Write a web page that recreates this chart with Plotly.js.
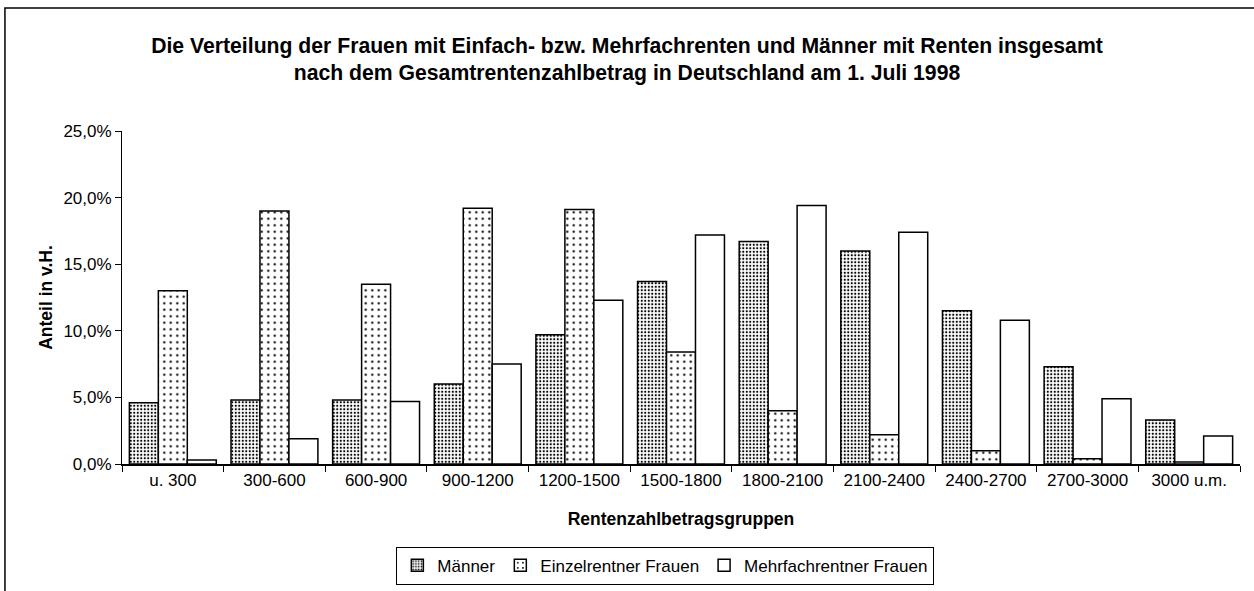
<!DOCTYPE html>
<html><head><meta charset="utf-8">
<script src="https://cdn.plot.ly/plotly-3.0.1.min.js"></script>
<style>body{margin:0;background:#fff}#c{width:1254px;height:591px}</style>
</head><body><div id="c"></div>
<script>
const categories = ["u. 300","300-600","600-900","900-1200","1200-1500","1500-1800","1800-2100","2100-2400","2400-2700","2700-3000","3000 u.m."];
const maenner = [4.6, 4.8, 4.8, 6.0, 9.7, 13.7, 16.7, 16.0, 11.5, 7.3, 3.3];
const einzel = [13.0, 19.0, 13.5, 19.2, 19.1, 8.4, 4.0, 2.2, 1.0, 0.4, 0.15];
const mehrfach = [0.3, 1.9, 4.7, 7.5, 12.3, 17.2, 19.4, 17.4, 10.8, 4.9, 2.1];
const yTicks = [0, 5, 10, 15, 20, 25];
const yTickLabels = ["0,0%","5,0%","10,0%","15,0%","20,0%","25,0%"];

const line = {color:'#000', width:1.5};
const traces = [
  {type:'bar', name:'Männer', x:categories, y:maenner,
   marker:{color:'#fff', line:line, pattern:{shape:'.', size:3.5, solidity:0.3, fgcolor:'#000', bgcolor:'#fff'}}},
  {type:'bar', name:'Einzelrentner Frauen', x:categories, y:einzel,
   marker:{color:'#fff', line:line, pattern:{shape:'.', size:6.5, solidity:0.1, fgcolor:'#000', bgcolor:'#fff'}}},
  {type:'bar', name:'Mehrfachrentner Frauen', x:categories, y:mehrfach,
   marker:{color:'#fff', line:line}}
];
const layout = {
  width:1254, height:591,
  margin:{l:122, r:14, t:131, b:127, autoexpand:false},
  paper_bgcolor:'#fff', plot_bgcolor:'#fff',
  font:{family:'"Liberation Sans", Arial, sans-serif', size:17, color:'#000'},
  title:{text:'<b>Die Verteilung der Frauen mit Einfach- bzw. Mehrfachrenten und Männer mit Renten insgesamt<br>nach dem Gesamtrentenzahlbetrag in Deutschland am 1. Juli 1998</b>',
    x:0.5, xref:'container', xanchor:'center', y:0.911, yref:'container', yanchor:'middle', font:{size:21.2}},
  barmode:'group', bargap:0.145, bargroupgap:0,
  showlegend:true,
  legend:{orientation:'h', x:0.486, xanchor:'center', y:-0.2485, yanchor:'top',
    bordercolor:'#000', borderwidth:1, font:{size:17}, traceorder:'normal', itemwidth:30, tracegroupgap:0},
  xaxis:{type:'category', automargin:false, showline:true, linecolor:'#000', linewidth:1.5, ticks:'outside', tickson:'boundaries',
    ticklen:6, tickcolor:'#000', tickfont:{size:17}, showgrid:false, tickangle:0,
    title:{text:'<b>Rentenzahlbetragsgruppen</b>', font:{size:17.5}, standoff:24}},
  yaxis:{range:[0,25], automargin:false, tickvals:yTicks, ticktext:yTickLabels, showline:true, linecolor:'#000', linewidth:1,
    ticks:'outside', ticklen:6, tickcolor:'#000', showgrid:false, zeroline:false, tickfont:{size:17},
    title:{text:'<b>Anteil in v.H.</b>', font:{size:17.5}, standoff:6}},
  shapes:[{type:'rect', xref:'paper', yref:'paper', x0:-0.1047, x1:1.05, y0:-0.5, y1:1.369,
    line:{color:'#000', width:1.5}, fillcolor:'rgba(0,0,0,0)', layer:'below'}]
};
Plotly.newPlot('c', traces, layout, {displayModeBar:false, staticPlot:true});
</script></body></html>
